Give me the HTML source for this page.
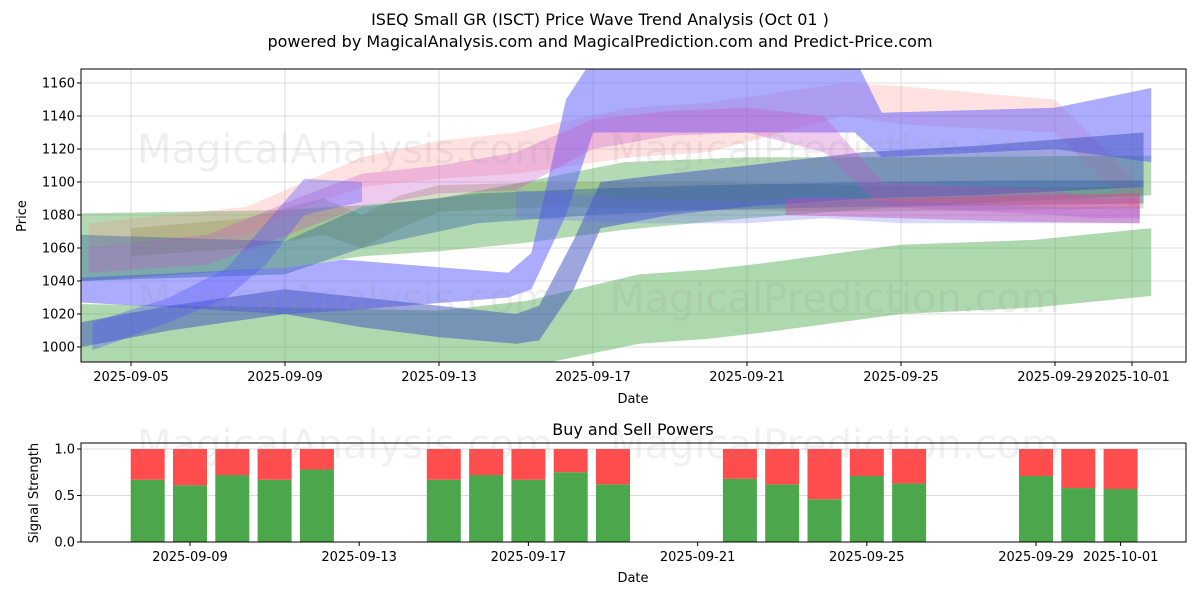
<!DOCTYPE html>
<html><head><meta charset="utf-8"><style>
body{margin:0;background:#fff;font-family:"Liberation Sans","DejaVu Sans",sans-serif}
svg text{font-family:"DejaVu Sans","Liberation Sans",sans-serif}
</style></head><body>
<svg id="chart" width="1200" height="600" xmlns="http://www.w3.org/2000/svg">
<text x="600" y="25" text-anchor="middle" font-size="16">ISEQ Small GR (ISCT) Price Wave Trend Analysis (Oct 01 )</text>
<text x="600" y="47" text-anchor="middle" font-size="16">powered by MagicalAnalysis.com and MagicalPrediction.com and Predict-Price.com</text>
<g id="topPanel"></g>
<g id="botPanel"></g>
</svg>
<script>
// ---- price panel data (day = day of September; 31 = Oct 01) ----
const priceTicks = [1000,1020,1040,1060,1080,1100,1120,1140,1160];
const dateTickDays = [5,9,13,17,21,25,29,31];
const dateTickLabels = ["2025-09-05","2025-09-09","2025-09-13","2025-09-17","2025-09-21","2025-09-25","2025-09-29","2025-10-01"];
const bandG1Days=[3.7,9,13,15.3,18.2,20,21.5,25,28.5,31.5];
const bandG1Lo=[982,984,982,988,1002,1005,1009,1020,1024,1031];
const bandG1Hi=[1026,1024,1022,1028,1044,1047,1051,1062,1065,1072];
const bandG2Days=[3.7,9,11,13,15.2,17.8,21,25,31.5];
const bandG2Lo=[1040,1048,1055,1058,1063,1071,1078,1085,1092];
const bandG2Hi=[1081,1083,1086,1090,1100,1112,1115,1115,1116];
const bandG3Days=[5,8,10,11,12,13,16,20,24,28,31.3];
const bandG3Lo=[1055,1060,1068,1060,1072,1082,1085,1083,1082,1083,1084];
const bandG3Hi=[1072,1078,1090,1080,1092,1098,1100,1100,1098,1097,1097];
const bandB1Days=[3.7,9,10.5,14.8,15.4,16.3,17,23.8,24.5,29,31.5];
const bandB1Lo=[1027,1020,1022,1030,1035,1080,1130,1130,1115,1120,1112];
const bandB1Hi=[1042,1048,1053,1045,1057,1150,1175,1175,1142,1145,1157];
const bandB2Days=[3.7,6,9,11,13,15,15.6,16.5,17.2,19,21,24,27,31.3];
const bandB2Lo=[1000,1010,1020,1012,1006,1002,1004,1035,1072,1080,1085,1090,1092,1097];
const bandB2Hi=[1015,1025,1035,1030,1025,1020,1025,1065,1100,1105,1110,1118,1122,1130];
const bandB3Days=[3.7,9,11,14,17,20,24,28,31.3];
const bandB3Lo=[1040,1044,1060,1075,1080,1083,1085,1086,1087];
const bandB3Hi=[1068,1064,1085,1093,1096,1098,1100,1101,1101];
const bandP1Days=[3.9,8,9.5,11,13,15,16.5,18,20,23.5,25,29,31.2];
const bandP1Lo=[1060,1068,1085,1097,1102,1105,1110,1115,1118,1140,1135,1130,1080];
const bandP1Hi=[1075,1085,1100,1115,1125,1130,1138,1145,1148,1160,1158,1150,1098];
const bandP2Days=[3.9,7,9.3,11,13,15,17,19,21,23,24.5,29,30,31.2];
const bandP2Lo=[1045,1050,1070,1085,1093,1095,1120,1128,1130,1118,1085,1080,1078,1078];
const bandP2Hi=[1060,1068,1090,1105,1110,1118,1138,1143,1145,1140,1100,1095,1090,1090];
const bandP3Days=[22,25,28,31.2];
const bandP3Lo=[1080,1078,1076,1075];
const bandP3Hi=[1090,1090,1092,1093];
const bandB4Days=[15,18,21,23,25,29,31.2];
const bandB4Lo=[1078,1075,1075,1078,1075,1075,1075];
const bandB4Hi=[1095,1090,1088,1092,1088,1085,1085];
const bandB5Days=[4,6,7.5,8.5,9.5,11];
const bandB5Lo=[998,1015,1030,1050,1080,1088];
const bandB5Hi=[1015,1030,1048,1075,1102,1100];
// ---- signal panel data ----
const barDays=[8,9,10,11,12,15,16,17,18,19,22,23,24,25,26,29,30,31];
const buyValues=[0.67,0.61,0.72,0.67,0.78,0.67,0.72,0.67,0.75,0.62,0.68,0.62,0.46,0.71,0.63,0.71,0.58,0.57];
const sigTicks=[0,0.5,1.0];
const sigTickLabels=["0.0","0.5","1.0"];
const botTickDays=[9,13,17,21,25,29,31];
const botTickLabels=["2025-09-09","2025-09-13","2025-09-17","2025-09-21","2025-09-25","2025-09-29","2025-10-01"];

const NS="http://www.w3.org/2000/svg";
function mk(p,t,a){const e=document.createElementNS(NS,t);for(const k in a)e.setAttribute(k,a[k]);p.appendChild(e);return e;}
const T={x0:81,x1:1186,y0:69,y1:362};
const xT=d=>131+(d-5)*38.5;
const yT=v=>347-(v-1000)*1.65;
const topG=document.getElementById('topPanel');
const defs=mk(document.getElementById('chart'),'defs',{});
const cp=mk(defs,'clipPath',{id:'clipTop'});
mk(cp,'rect',{x:T.x0,y:T.y0,width:T.x1-T.x0,height:T.y1-T.y0});
priceTicks.forEach(v=>{
  const l=mk(topG,'line',{x1:T.x0,x2:T.x1,y1:yT(v),y2:yT(v),stroke:'#ddd','stroke-width':1});
  
  
  const t=mk(topG,'text',{x:T.x0-6,y:yT(v)+4.5,'text-anchor':'end','font-size':13});
  t.textContent=v;
  
  
  mk(topG,'line',{x1:T.x0-4,x2:T.x0,y1:yT(v),y2:yT(v),stroke:'#000'});
});
dateTickDays.forEach((d,i)=>{
  const g=mk(topG,'line',{x1:xT(d),x2:xT(d),y1:T.y0,y2:T.y1,stroke:'#ddd'});
  
  
  mk(topG,'line',{x1:xT(d),x2:xT(d),y1:T.y1,y2:T.y1+4,stroke:'#000'});
  const t=mk(topG,'text',{x:xT(d),y:T.y1+19,'text-anchor':'middle','font-size':13});
  t.textContent=dateTickLabels[i];
  
  
});
const wmTop=[["MagicalAnalysis.com",345,163],["MagicalPrediction.com",835,163],["MagicalAnalysis.com",345,312],["MagicalPrediction.com",835,312]];
const bands=[
 ['green-band-low',bandG1Days,bandG1Lo,bandG1Hi,'rgba(76,168,76,0.45)'],
 ['green-band-high',bandG2Days,bandG2Lo,bandG2Hi,'rgba(76,168,76,0.42)'],
 ['olive-band',bandG3Days,bandG3Lo,bandG3Hi,'rgba(120,150,60,0.3)'],
 ['pink-band-upper',bandP1Days,bandP1Lo,bandP1Hi,'rgba(255,120,120,0.22)'],
 ['blue-wave-band',bandB1Days,bandB1Lo,bandB1Hi,'rgba(90,90,255,0.5)'],
 ['dark-blue-band',bandB2Days,bandB2Lo,bandB2Hi,'rgba(60,80,190,0.5)'],
 ['teal-band',bandB3Days,bandB3Lo,bandB3Hi,'rgba(40,90,160,0.38)'],
 ['purple-band',bandP2Days,bandP2Lo,bandP2Hi,'rgba(200,80,200,0.3)'],
 ['pink-band-lower',bandP3Days,bandP3Lo,bandP3Hi,'rgba(230,60,140,0.4)'],
 ['light-blue-band',bandB4Days,bandB4Lo,bandB4Hi,'rgba(100,100,255,0.25)'],
 ['blue-rise-band',bandB5Days,bandB5Lo,bandB5Hi,'rgba(80,80,255,0.35)']
];
const bg=mk(topG,'g',{'clip-path':'url(#clipTop)'});
bands.forEach(b=>{
  const [nm,ds,lo,hi,col]=b;
  const pts=ds.map((d,i)=>xT(d)+','+yT(hi[i])).concat(ds.map((d,i)=>xT(d)+','+yT(lo[i])).reverse());
  const p=mk(bg,'polygon',{points:pts.join(' '),fill:col});
  
  
});
wmTop.forEach(w=>{
  const t=mk(topG,'text',{x:w[1],y:w[2],'text-anchor':'middle','font-size':40,fill:'rgba(150,150,150,0.15)'});
  t.textContent=w[0];
  
  
});
const fr=mk(topG,'rect',{x:T.x0,y:T.y0,width:T.x1-T.x0,height:T.y1-T.y0,fill:'none',stroke:'#000'});


const xl=mk(topG,'text',{x:633,y:403,'text-anchor':'middle','font-size':13});xl.textContent='Date';


const yl=mk(topG,'text',{x:26,y:216,'text-anchor':'middle','font-size':13,transform:'rotate(-90 26 216)'});yl.textContent='Price';



const B={x0:81,x1:1186,y0:443,y1:542};
const xB=d=>190+(d-9)*42.3;
const yB=v=>542-v*93;
const botG=document.getElementById('botPanel');
sigTicks.forEach((v,i)=>{
  const l=mk(botG,'line',{x1:B.x0,x2:B.x1,y1:yB(v),y2:yB(v),stroke:'#ddd'});
  
  
  mk(botG,'line',{x1:B.x0-4,x2:B.x0,y1:yB(v),y2:yB(v),stroke:'#000'});
  const t=mk(botG,'text',{x:B.x0-6,y:yB(v)+4.5,'text-anchor':'end','font-size':13});
  t.textContent=sigTickLabels[i];
  
  
});
botTickDays.forEach((d,i)=>{
  mk(botG,'line',{x1:xB(d),x2:xB(d),y1:B.y1,y2:B.y1+4,stroke:'#000'});
  const t=mk(botG,'text',{x:xB(d),y:B.y1+19,'text-anchor':'middle','font-size':13});
  t.textContent=botTickLabels[i];
  
  
});
barDays.forEach((d,i)=>{
  const x=xB(d)-17;
  const g=mk(botG,'rect',{x:x,y:yB(buyValues[i]),width:34,height:yB(0)-yB(buyValues[i]),fill:'#4ca64c'});
  
  
  const r=mk(botG,'rect',{x:x,y:yB(1),width:34,height:yB(buyValues[i])-yB(1),fill:'#ff4d4d'});
  
  
});
[["MagicalAnalysis.com",345,458],["MagicalPrediction.com",835,458]].forEach(w=>{
  const t=mk(botG,'text',{x:w[1],y:w[2],'text-anchor':'middle','font-size':40,fill:'rgba(150,150,150,0.13)'});
  t.textContent=w[0];
  
  
});
const bf=mk(botG,'rect',{x:B.x0,y:B.y0,width:B.x1-B.x0,height:B.y1-B.y0,fill:'none',stroke:'#000'});


const bt=mk(botG,'text',{x:633,y:435,'text-anchor':'middle','font-size':16});bt.textContent='Buy and Sell Powers';


const bx=mk(botG,'text',{x:633,y:582,'text-anchor':'middle','font-size':13});bx.textContent='Date';


const by=mk(botG,'text',{x:38,y:493,'text-anchor':'middle','font-size':13,transform:'rotate(-90 38 493)'});by.textContent='Signal Strength';


</script>
</body></html>
